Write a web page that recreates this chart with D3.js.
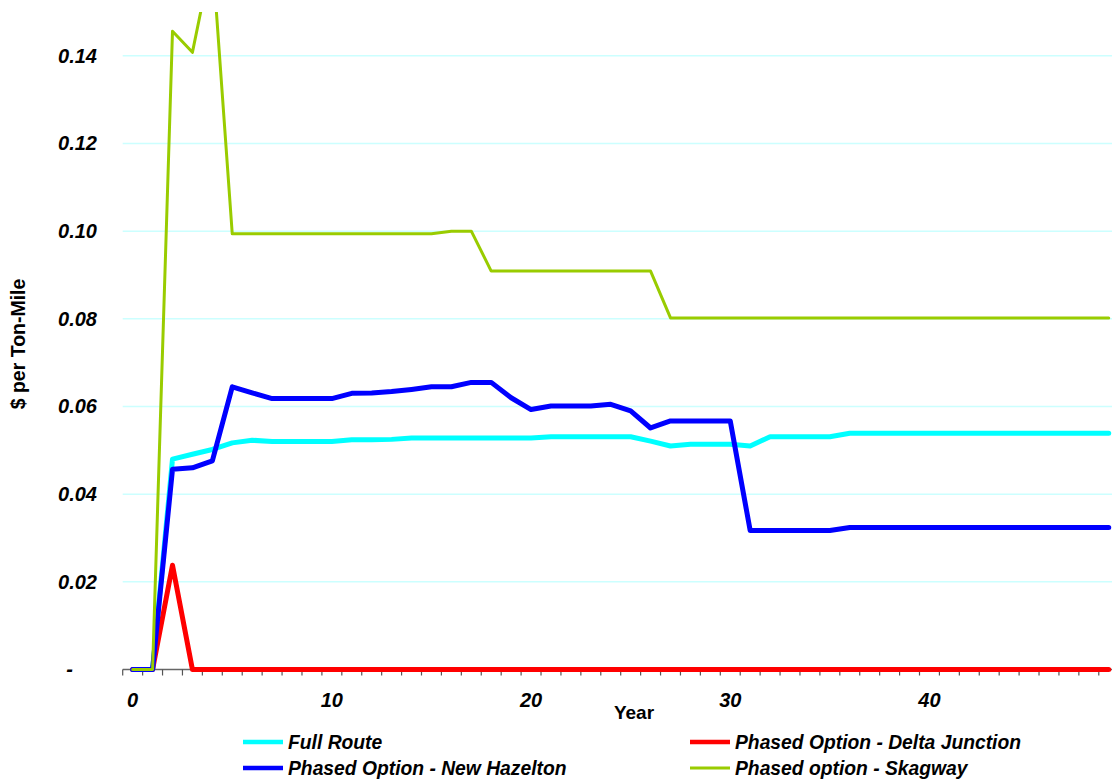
<!DOCTYPE html>
<html>
<head>
<meta charset="utf-8">
<script src="https://cdn.jsdelivr.net/npm/d3@7"></script>
<style>
  html, body { margin: 0; padding: 0; background: #fff; }
  svg { display: block; font-family: "Liberation Sans", Arial, sans-serif; }
</style>
</head>
<body>
<svg id="chart" width="1112" height="780"></svg>
<script>
// Years 0..49
const years = d3.range(0, 50);

// $ per ton-mile by year
const fullRoute = [
  0, 0, 0.0480, 0.0491, 0.0502, 0.0517, 0.0523, 0.0520, 0.0520, 0.0520,
  0.0520, 0.0524, 0.0524, 0.0525, 0.0528, 0.0528, 0.0528, 0.0528, 0.0528, 0.0528,
  0.0528, 0.0531, 0.0531, 0.0531, 0.0531, 0.0531, 0.0521, 0.0510, 0.0514, 0.0514,
  0.0514, 0.0510, 0.0531, 0.0531, 0.0531, 0.0531, 0.0539, 0.0539, 0.0539, 0.0539,
  0.0539, 0.0539, 0.0539, 0.0539, 0.0539, 0.0539, 0.0539, 0.0539, 0.0539, 0.0539
];
const deltaJunction = [
  0, 0, 0.0238, 0, 0, 0, 0, 0, 0, 0,
  0, 0, 0, 0, 0, 0, 0, 0, 0, 0,
  0, 0, 0, 0, 0, 0, 0, 0, 0, 0,
  0, 0, 0, 0, 0, 0, 0, 0, 0, 0,
  0, 0, 0, 0, 0, 0, 0, 0, 0, 0
];
const newHazelton = [
  0, 0, 0.0457, 0.0460, 0.0476, 0.0645, 0.0631, 0.0618, 0.0618, 0.0618,
  0.0618, 0.0630, 0.0631, 0.0634, 0.0639, 0.0645, 0.0645, 0.0655, 0.0655, 0.0620,
  0.0593, 0.0601, 0.0601, 0.0601, 0.0605, 0.0590, 0.0551, 0.0567, 0.0567, 0.0567,
  0.0567, 0.0317, 0.0317, 0.0317, 0.0317, 0.0317, 0.0324, 0.0324, 0.0324, 0.0324,
  0.0324, 0.0324, 0.0324, 0.0324, 0.0324, 0.0324, 0.0324, 0.0324, 0.0324, 0.0324
];
const skagway = [
  0, 0, 0.1456, 0.1408, 0.1630, 0.0994, 0.0994, 0.0994, 0.0994, 0.0994,
  0.0994, 0.0994, 0.0994, 0.0994, 0.0994, 0.0994, 0.1000, 0.1000, 0.0909, 0.0909,
  0.0909, 0.0909, 0.0909, 0.0909, 0.0909, 0.0909, 0.0909, 0.0802, 0.0802, 0.0802,
  0.0802, 0.0802, 0.0802, 0.0802, 0.0802, 0.0802, 0.0802, 0.0802, 0.0802, 0.0802,
  0.0802, 0.0802, 0.0802, 0.0802, 0.0802, 0.0802, 0.0802, 0.0802, 0.0802, 0.0802
];

const seriesNames = [
  "Full Route",
  "Phased Option - Delta Junction",
  "Phased Option - New Hazelton",
  "Phased option - Skagway"
];
const yTickValues = [0, 0.02, 0.04, 0.06, 0.08, 0.10, 0.12, 0.14];
const xLabelYears = [0, 10, 20, 30, 40];

const series = [
  { name: seriesNames[0], values: fullRoute,     color: "#00FFFF", width: 5 },
  { name: seriesNames[1], values: deltaJunction, color: "#FF0000", width: 5 },
  { name: seriesNames[2], values: newHazelton,   color: "#0000FF", width: 5 },
  { name: seriesNames[3], values: skagway,       color: "#99CC00", width: 3 }
];

const svg = d3.select("#chart");
const plot = { left: 122.7, right: 1118.7, top: 12, bottom: 669.5 };

const x = d3.scaleBand().domain(years).range([plot.left, plot.right]).paddingInner(0).paddingOuter(0);
const cx = d => x(d) + x.bandwidth() / 2;
const y = d3.scaleLinear().domain([0, 0.15]).range([plot.bottom, plot.top]);

svg.append("defs").append("clipPath").attr("id", "plotClip")
  .append("rect")
  .attr("x", plot.left).attr("y", plot.top)
  .attr("width", plot.right - plot.left).attr("height", plot.bottom - plot.top + 10);

// Horizontal gridlines
svg.append("g")
  .selectAll("line")
  .data(yTickValues.filter(v => v > 0))
  .join("line")
  .attr("x1", plot.left).attr("x2", plot.right)
  .attr("y1", d => y(d)).attr("y2", d => y(d))
  .attr("stroke", "#CCFFFF").attr("stroke-width", 1.5);

// Y axis labels
const yAxis = d3.axisLeft(y)
  .tickValues(yTickValues)
  .tickSize(0)
  .tickPadding(0)
  .tickFormat(d => d === 0 ? "-" : d3.format(".2f")(d));
const gy = svg.append("g").attr("transform", "translate(97,0)").call(yAxis);
gy.select(".domain").remove();
gy.selectAll("text")
  .attr("font-size", 20).attr("font-weight", "bold").attr("font-style", "italic")
  .attr("font-family", "'Liberation Sans', Arial, sans-serif")
  .attr("fill", "#000")
  .attr("x", d => d === 0 ? -24 : 0);

// X axis line and category ticks
const gx = svg.append("g");
gx.append("line")
  .attr("x1", plot.left).attr("x2", plot.right)
  .attr("y1", plot.bottom).attr("y2", plot.bottom)
  .attr("stroke", "#666").attr("stroke-width", 1.5);
gx.selectAll("line.tick")
  .data(years.concat([years.length]))
  .join("line")
  .attr("class", "tick")
  .attr("x1", d => d < years.length ? x(d) : plot.right)
  .attr("x2", d => d < years.length ? x(d) : plot.right)
  .attr("y1", plot.bottom).attr("y2", plot.bottom + 6)
  .attr("stroke", "#555").attr("stroke-width", 1.2);

const xAxis = d3.axisBottom(x).tickValues(xLabelYears).tickSize(0).tickPadding(0);
const gxl = svg.append("g").attr("transform", `translate(0,${plot.bottom})`).call(xAxis);
gxl.select(".domain").remove();
gxl.selectAll("text")
  .attr("y", 30).attr("dy", "0.35em")
  .attr("font-size", 20).attr("font-weight", "bold").attr("font-style", "italic")
  .attr("font-family", "'Liberation Sans', Arial, sans-serif")
  .attr("fill", "#000");

// Axis titles
svg.append("text")
  .attr("x", 634).attr("y", 712).attr("dy", "0.35em")
  .attr("text-anchor", "middle")
  .attr("font-size", 19).attr("font-weight", "bold")
  .text("Year");
svg.append("text")
  .attr("transform", "translate(18,344) rotate(-90)")
  .attr("dy", "0.35em")
  .attr("text-anchor", "middle")
  .attr("font-size", 19.5).attr("font-weight", "bold")
  .text("$ per Ton-Mile");

// Series lines
const line = d3.line().x((d, i) => cx(years[i])).y(d => y(d));
svg.append("g").attr("clip-path", "url(#plotClip)")
  .selectAll("path")
  .data(series)
  .join("path")
  .attr("d", s => line(s.values))
  .attr("fill", "none")
  .attr("stroke", s => s.color)
  .attr("stroke-width", s => s.width)
  .attr("stroke-linejoin", "round")
  .attr("stroke-linecap", "round");

// Legend (two columns, two rows)
const legendPos = [
  { x: 243, y: 742 }, { x: 690, y: 742 },
  { x: 243, y: 768 }, { x: 690, y: 768 }
];
const lg = svg.append("g")
  .selectAll("g")
  .data(series)
  .join("g")
  .attr("transform", (s, i) => `translate(${legendPos[i].x},${legendPos[i].y})`);
lg.append("line")
  .attr("x1", 0).attr("x2", 40).attr("y1", 0).attr("y2", 0)
  .attr("stroke", s => s.color)
  .attr("stroke-width", s => s.width === 3 ? 3 : 4.5);
lg.append("text")
  .attr("x", 45).attr("dy", "0.35em")
  .attr("font-size", 19.3).attr("font-weight", "bold").attr("font-style", "italic")
  .attr("fill", "#000")
  .text(s => s.name);
</script>
</body>
</html>
